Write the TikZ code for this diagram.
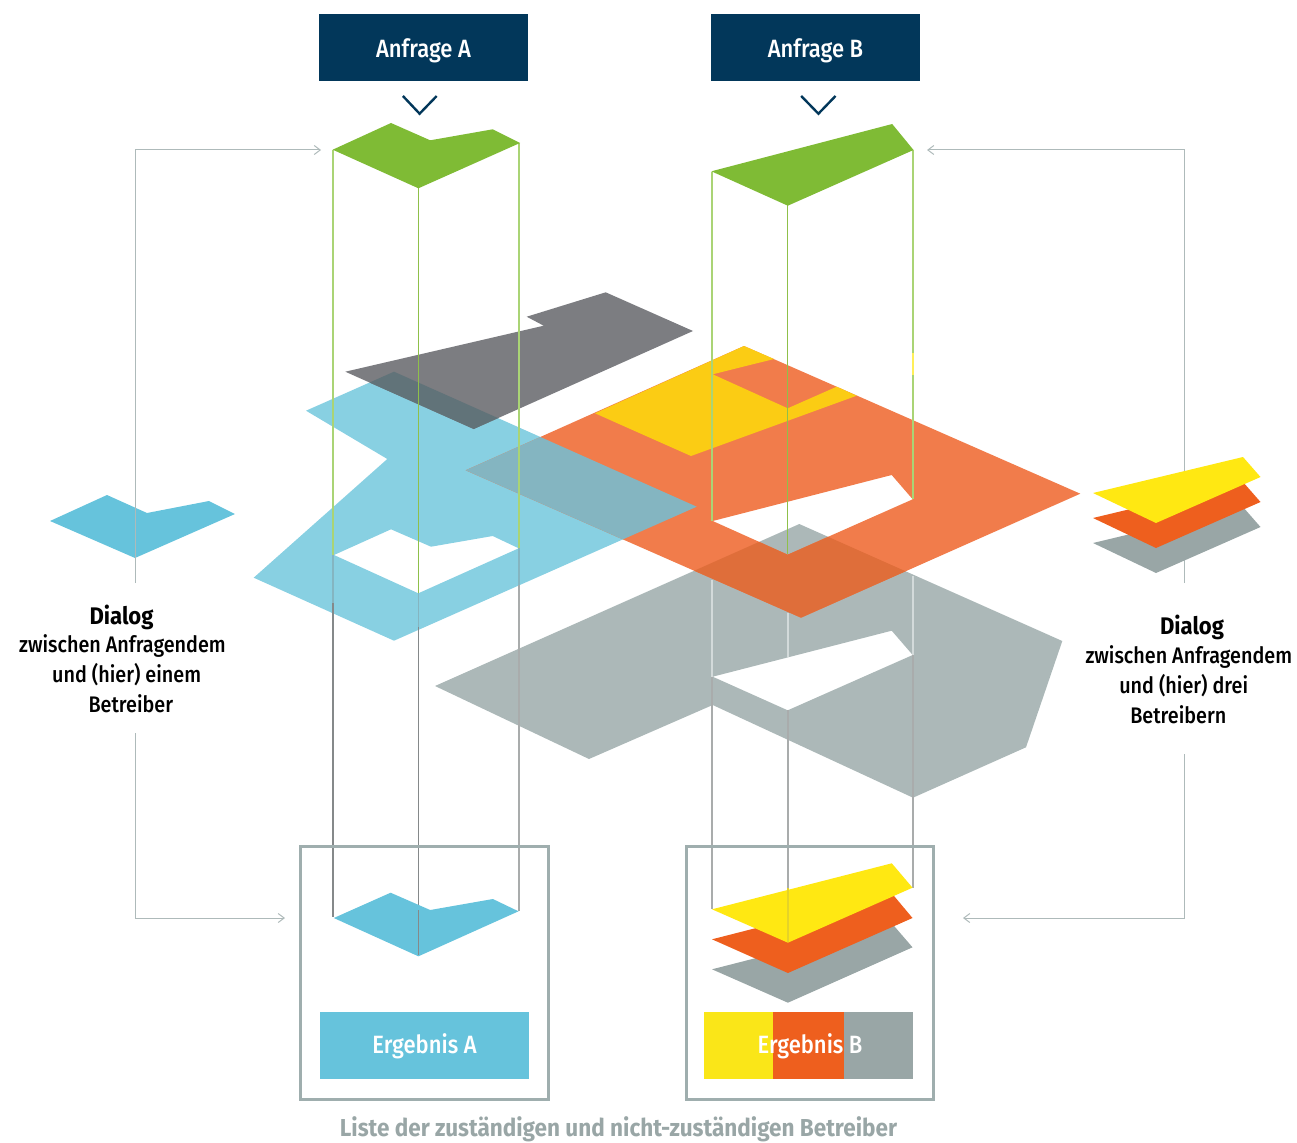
\documentclass[tikz,border=0pt]{standalone}
\usepackage{fontspec}
\setmainfont{Fira Sans}
\newfontfamily\medf[FakeStretch=0.88]{Fira Sans Medium}
\newfontfamily\boldf[FakeStretch=0.92]{Fira Sans}
\usetikzlibrary{arrows.meta}
\definecolor{navy}{HTML}{02375A}
\definecolor{grn}{HTML}{7FBB35}
\definecolor{blu}{HTML}{66C3DC}
\definecolor{blul}{HTML}{88D0E2}
\definecolor{org}{HTML}{F17C4B}
\definecolor{orgd}{HTML}{EE5F1E}
\definecolor{orgo}{HTML}{DF6E3A}
\definecolor{gry}{HTML}{ACB8B8}
\definecolor{gryd}{HTML}{99A6A6}
\definecolor{frame}{HTML}{9FAEAE}
\definecolor{dark}{HTML}{7C7D81}
\definecolor{yel}{HTML}{FBCC14}
\definecolor{yelb}{HTML}{FFE812}
\definecolor{yelr}{HTML}{FAE618}
\definecolor{blorg}{HTML}{84B5C1}
\definecolor{bldk}{HTML}{617379}
\definecolor{linl}{HTML}{AAD475}
\definecolor{linm}{HTML}{8FC04A}
\definecolor{ling}{HTML}{A9ACAC}
\definecolor{lind}{HTML}{85898A}
\definecolor{linw}{HTML}{D3DADA}
\definecolor{conn}{HTML}{AEBABA}
\tikzset{x=1pt,y=-1pt,
 vline/.style={line width=2pt},
 mline/.style={line width=1.5pt},
 arr/.style={draw=conn,line width=1pt,-{Straight Barb[length=6pt,width=9pt]}},
 capt/.style={font=\fontsize{25}{28}\selectfont\medf,text=white,inner sep=0pt},
 boxed/.style={minimum width=209pt,minimum height=67pt,inner sep=0pt},
 basetop/.style={text height=19.6pt,text depth=0pt},
 basebot/.style={text height=16pt,text depth=0pt},
 dlg/.style={font=\fontsize{22.5}{26}\selectfont\medf,inner sep=0pt,text=black},
 dlgb/.style={font=\fontsize{24}{26}\selectfont\boldf\bfseries,inner sep=0pt,text=black},
 resbox/.style={draw=frame,line width=3pt,fill=none},
}
\def\bluepath{(394,371.7)--(696.7,506.7)--(394,640.7)--(253.7,577.7)--(387.3,459)--(306,410.7)--cycle
 (334,555)--(418.3,593.3)--(518.7,548.3)--(492.7,536)--(431,546.7)--(391,529.3)--cycle}
\def\darkpath{(605.7,292.3)--(693,331)--(473.7,429)--(345.3,371.7)--(543.7,325.7)--(526.7,316.7)--cycle}
\def\orgpath{(744,346)--(1080.3,493.7)--(801,617.7)--(465.7,470.3)--cycle
 (712.7,521)--(787.7,554.7)--(912.7,499.3)--(891.7,475)--cycle}
\def\grypath{(799.3,524)--(1062.3,641)--(1026,747.3)--(913,797.7)--(712.7,705)--(589,759)--(435,686)--cycle
 (712.7,676.7)--(787.7,710.3)--(912.7,655)--(891.7,630.7)--cycle}
\begin{document}
\begin{tikzpicture}
\useasboundingbox (0,0) rectangle (1297,1142);
% base shapes
\fill[gry] \grypath;
\fill[blul] \bluepath;
\fill[org] \orgpath;
\fill[dark] \darkpath;
% overlaps
\begin{scope}\clip \orgpath; \fill[orgo] \grypath;\end{scope}
\begin{scope}\clip \orgpath; \fill[blorg] \bluepath;\end{scope}
\begin{scope}\clip \darkpath; \fill[bldk] \bluepath;\end{scope}
\fill[yel] (595,413.3)--(744,346)--(774,359)--(712.7,374.3)--(787.7,408.3)--(836.7,386.7)--(856.7,395.7)--(691,456)--cycle;
% vertical lines A
\draw[vline,linl] (333.3,150)--(333.3,555);
\draw[mline,linm] (418.5,188)--(418.5,593);
\draw[vline,linl] (519,143)--(519,548);
\draw[vline,lind] (333.3,555)--(333.3,917);
\draw[mline,lind] (418.5,593)--(418.5,955);
\draw[vline,ling] (519,548)--(519,911);
% tinted by the blue plane
\draw[vline,color=blorg] (333.3,555)--(333.3,603);
\draw[mline,color=blorg] (418.5,593)--(418.5,627);
\draw[vline,color=blorg] (519,548)--(519,585);
% vertical lines B
\draw[vline,linl] (712.3,172)--(712.3,521);
\draw[mline,linm] (787.5,205)--(787.5,554);
\draw[vline,linl] (913,150)--(913,499);
\draw[vline,yelb!70!white] (913,353)--(913,375);
\draw[vline,linw] (712.3,580)--(712.3,677);
\draw[vline,linw] (787.5,613)--(787.5,657);
\draw[vline,linw] (913,576)--(913,655);
\draw[vline,ling] (712.3,677)--(712.3,909);
\draw[vline,ling] (787.5,710)--(787.5,888);
\draw[vline,ling] (913,655)--(913,888);
% green
\fill[grn] (332.7,149.7)--(391,123)--(430.2,140.3)--(492.7,129.3)--(520,143)--(418.4,188.3)--cycle;
\fill[grn] (711.4,171.3)--(892.2,124)--(913.5,150)--(787.8,205.7)--cycle;
% top boxes
\node[fill=navy,boxed,capt,basetop] (qa) at (423.5,47.5) {Anfrage A};
\node[fill=navy,boxed,capt,basetop] (qb) at (815.5,47.5) {Anfrage B};
\draw[navy,line width=2.4pt] (402.9,96)--(419.6,113.7)--(436.7,96);
\draw[navy,line width=2.4pt] (801.2,96)--(818.4,113.7)--(835.5,96);
% connectors
\coordinate (tl) at (321,150);
\coordinate (bl) at (285,918);
\coordinate (tr) at (927,150);
\coordinate (br) at (963,918);
\fill[blu] (50,521)--(107,495)--(147,513)--(209,501)--(235,514)--(135,558)--cycle;
\draw[arr] (135,583)--(135,150)--(tl);
\draw[arr] (135,733)--(135,918)--(bl);
\draw[arr] (1184,583)--(1184,150)--(tr);
\draw[arr] (1184,754)--(1184,918)--(br);
% right stack
\fill[gryd] (1093,543)--(1243,507)--(1260.5,527)--(1156,573)--cycle;
\fill[orgd] (1093,518)--(1243,482)--(1260.5,502)--(1156,548)--cycle;
\fill[yelb] (1093,493)--(1243,457)--(1260.5,477)--(1156,523)--cycle;
% dialog labels
\node[dlgb] (dl1) at (121.5,617) {Dialog};
\node[dlg] (dl2) at (122.5,645.5) {zwischen Anfragendem};
\node[dlg] (dl3) at (126.7,674.5) {und (hier) einem};
\node[dlg] (dl4) at (130.8,703.5) {Betreiber};
\node[dlgb] (dr1) at (1192,627) {Dialog};
\node[dlg] (dr2) at (1188.8,656.5) {zwischen Anfragendem};
\node[dlg] (dr3) at (1183.7,685.5) {und (hier) drei};
\node[dlg] (dr4) at (1178.3,714.5) {Betreibern};
% result boxes
\draw[resbox] (300.8,846) rectangle (548.5,1099);
\draw[resbox] (686.8,846) rectangle (933.8,1099);
\fill[blu] (333.8,918)--(390.6,892.7)--(430.2,910)--(492.9,899)--(518.5,911.3)--(418.4,956.3)--cycle;
\draw[mline,lind] (418.5,910)--(418.5,955);
\fill[gryd] (712,969.3)--(891.8,923.3)--(912.5,947.3)--(787.9,1002.7)--cycle;
\fill[orgd] (712,939.3)--(891.8,893.3)--(912.5,918)--(787.9,973)--cycle;
\fill[yelb] (712,909.3)--(891.8,863.3)--(912.5,887.7)--(787.9,942.7)--cycle;
\draw[vline,color=yelb!80!gray] (787.5,888)--(787.5,942);
\node[fill=blu,boxed,capt,basebot] (ra) at (424.5,1045.5) {Ergebnis A};
\fill[yelr] (704,1012) rectangle (773,1079);
\fill[orgd] (773,1012) rectangle (843.5,1079);
\fill[gryd] (843.5,1012) rectangle (913,1079);
\node[capt,basebot] (rb) at (810,1045.5) {Ergebnis B};
\node[font=\fontsize{24.5}{26}\selectfont\boldf\bfseries,text=gryd,inner sep=0pt] (cap) at (618.5,1129.5) {Liste der zuständigen und nicht-zuständigen Betreiber};
\end{tikzpicture}
\end{document}
